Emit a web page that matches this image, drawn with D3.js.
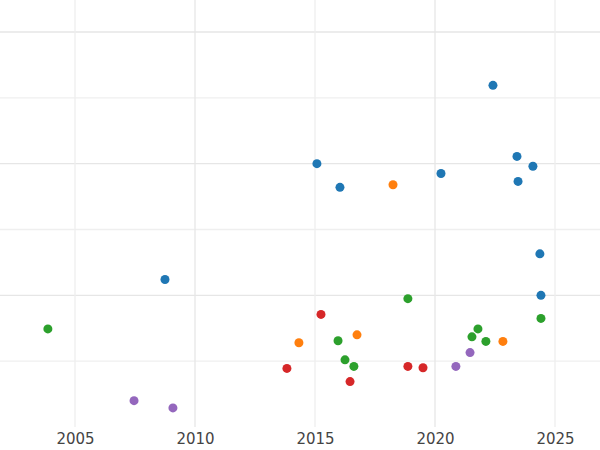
<!DOCTYPE html>
<html><head><meta charset="utf-8">
<script src="https://cdn.jsdelivr.net/npm/d3@7"></script>
<style>body{margin:0;background:#fff}</style></head>
<body><svg id="c" width="600" height="450"></svg>
<script>
const series = ["blue","orange","green","red","purple"];
const colors = ["#1f77b4","#ff7f0e","#2ca02c","#d62728","#9467bd"];
const blueX = [2022.415,2015.08,2016.04,2020.25,2023.415,2024.08,2023.46,2024.37,2008.75,2024.415];
const blueY = [5.19,4.00,3.64,3.85,4.11,3.96,3.73,2.63,2.24,2.00];
const orangeX = [2018.25,2016.75,2014.33,2022.83];
const orangeY = [3.68,1.40,1.28,1.30];
const greenX = [2003.87,2018.87,2024.415,2021.79,2021.54,2015.96,2022.12,2016.25,2016.62];
const greenY = [1.49,1.95,1.65,1.49,1.37,1.31,1.30,1.02,0.92];
const redX = [2015.25,2013.83,2018.87,2019.5,2016.46];
const redY = [1.71,0.89,0.92,0.90,0.69];
const purpleX = [2007.46,2009.08,2021.46,2020.87];
const purpleY = [0.40,0.29,1.13,0.92];
const xTicks = [2005,2010,2015,2020,2025];
const yGrid = [1,2,3,4,5,6];

const groups = [[blueX,blueY],[orangeX,orangeY],[greenX,greenY],[redX,redY],[purpleX,purpleY]];
const svg = d3.select("#c");
const x = d3.scaleLinear().domain([2001.875,2026.875]).range([0,600]);
const y = d3.scaleLinear().domain([0,6]).range([427,32]);

svg.selectAll(".hg").data(yGrid).join("line")
  .attr("x1",0).attr("x2",600).attr("y1",d=>y(d)).attr("y2",d=>y(d))
  .attr("stroke",d=>d%2===0?"#e6e6e6":"#efefef").attr("stroke-width",1.3);
svg.selectAll(".vg").data(xTicks).join("line")
  .attr("x1",d=>x(d)).attr("x2",d=>x(d)).attr("y1",0).attr("y2",427)
  .attr("stroke",d=>d%10===0?"#e6e6e6":"#efefef").attr("stroke-width",1.3);

const ax = svg.append("g").attr("transform","translate(0,427)")
  .call(d3.axisBottom(x).tickValues(xTicks).tickFormat(d3.format("d")).tickSize(0).tickPadding(6));
ax.select(".domain").remove();
ax.selectAll("text").attr("font-family","DejaVu Sans").attr("font-size",15).attr("fill","#444");

groups.forEach((g,i)=>{
  svg.append("g").selectAll("circle").data(g[0].map((v,j)=>[v,g[1][j]])).join("circle")
    .attr("cx",d=>x(d[0])).attr("cy",d=>y(d[1])).attr("r",4.5).attr("fill",colors[i]);
});
</script></body></html>
